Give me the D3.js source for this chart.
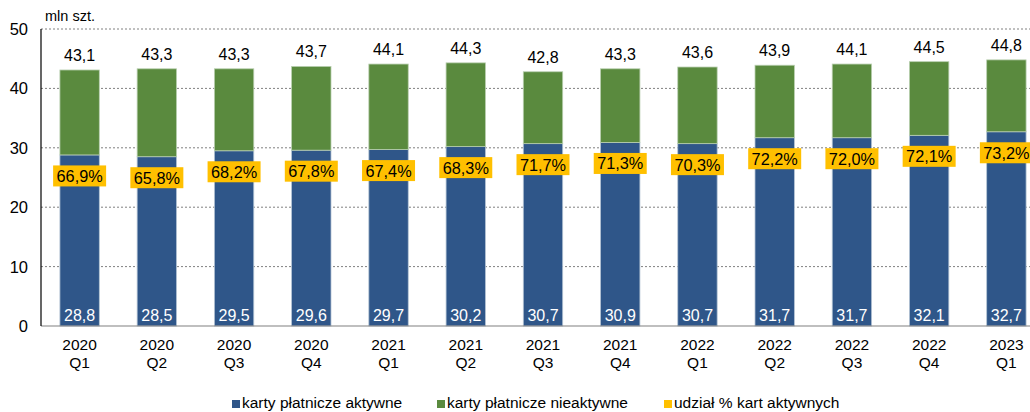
<!DOCTYPE html>
<html>
<head>
<meta charset="utf-8">
<script src="https://cdn.jsdelivr.net/npm/d3@7"></script>
<style>
  body { margin: 0; background: #fff; }
  svg text { font-family: "Liberation Sans", Arial, sans-serif; }
</style>
</head>
<body>
<svg width="1030" height="412"></svg>
<script>
const years = ["2020", "2020", "2020", "2020", "2021", "2021", "2021", "2021", "2022", "2022", "2022", "2022", "2023"];
const quarters = ["Q1", "Q2", "Q3", "Q4", "Q1", "Q2", "Q3", "Q4", "Q1", "Q2", "Q3", "Q4", "Q1"];
const active = [28.8, 28.5, 29.5, 29.6, 29.7, 30.2, 30.7, 30.9, 30.7, 31.7, 31.7, 32.1, 32.7];
const total = [43.1, 43.3, 43.3, 43.7, 44.1, 44.3, 42.8, 43.3, 43.6, 43.9, 44.1, 44.5, 44.8];
const share = [66.9, 65.8, 68.2, 67.8, 67.4, 68.3, 71.7, 71.3, 70.3, 72.2, 72.0, 72.1, 73.2];
const yTicks = [0, 10, 20, 30, 40, 50];
const legendLabels = ["karty płatnicze aktywne", "karty płatnicze nieaktywne", "udział % kart aktywnych"];

const svg = d3.select("svg");
const fmt = v => v.toFixed(1).replace(".", ",");
const blue = "#2f5689", green = "#5a8a3e", yellow = "#ffc000";

const data = active.map((a, i) => ({
    i: i,
    active: a,
    inactive: total[i] - a,
    total: total[i],
    share: share[i]
}));

const x = d3.scaleBand()
    .domain(d3.range(data.length))
    .range([41, 1045])
    .paddingInner(0.49)
    .paddingOuter(0.245);

const y = d3.scaleLinear()
    .domain([0, 50])
    .range([326, 29]);

// grid
svg.append("g")
    .selectAll("line")
    .data(yTicks.filter(t => t > 0))
    .enter().append("line")
    .attr("x1", 41).attr("x2", 1030)
    .attr("y1", d => y(d)).attr("y2", d => y(d))
    .attr("stroke", "#808080")
    .attr("stroke-width", 1)
    .attr("stroke-dasharray", "2,2");

// y tick labels
svg.append("g")
    .selectAll("text")
    .data(yTicks)
    .enter().append("text")
    .attr("x", 28)
    .attr("y", d => y(d) + 6)
    .attr("text-anchor", "end")
    .attr("font-size", 16.5)
    .attr("fill", "#000")
    .text(d => d);

svg.append("text")
    .attr("x", 45).attr("y", 21)
    .attr("font-size", 14.5)
    .text("mln szt.");

// bars
const bars = svg.append("g");
bars.selectAll("rect.active")
    .data(data)
    .enter().append("rect")
    .attr("class", "active")
    .attr("x", d => x(d.i))
    .attr("width", x.bandwidth())
    .attr("y", d => y(d.active))
    .attr("height", d => y(0) - y(d.active))
    .attr("fill", blue)
    .attr("stroke", "#b4c4d4")
    .attr("stroke-width", 0.8);

bars.selectAll("rect.inactive")
    .data(data)
    .enter().append("rect")
    .attr("class", "inactive")
    .attr("x", d => x(d.i))
    .attr("width", x.bandwidth())
    .attr("y", d => y(d.total))
    .attr("height", d => y(d.active) - y(d.total))
    .attr("fill", green)
    .attr("stroke", "#b9cfb0")
    .attr("stroke-width", 0.8);

// axes lines
svg.append("line")
    .attr("x1", 41).attr("x2", 1030)
    .attr("y1", y(0)).attr("y2", y(0))
    .attr("stroke", "#808080").attr("stroke-width", 1.2);
svg.append("line")
    .attr("x1", 41).attr("x2", 41)
    .attr("y1", y(50)).attr("y2", y(0))
    .attr("stroke", "#000").attr("stroke-width", 1.2);

// labels: totals
svg.append("g")
    .selectAll("text")
    .data(data)
    .enter().append("text")
    .attr("x", d => x(d.i) + x.bandwidth() / 2)
    .attr("y", d => y(d.total) - 9)
    .attr("text-anchor", "middle")
    .attr("font-size", 16)
    .attr("fill", "#000")
    .text(d => fmt(d.total));

// labels: active values
svg.append("g")
    .selectAll("text")
    .data(data)
    .enter().append("text")
    .attr("x", d => x(d.i) + x.bandwidth() / 2)
    .attr("y", y(0) - 5)
    .attr("text-anchor", "middle")
    .attr("font-size", 16)
    .attr("fill", "#fff")
    .text(d => fmt(d.active));

// labels: share boxes
const shareG = svg.append("g")
    .selectAll("g")
    .data(data)
    .enter().append("g")
    .attr("transform", d => `translate(${x(d.i) + x.bandwidth() / 2},${y(d.active) + 21})`);

shareG.append("rect")
    .attr("x", -26.5).attr("y", -10.5)
    .attr("width", 53).attr("height", 21)
    .attr("fill", yellow);

shareG.append("text")
    .attr("y", 6)
    .attr("text-anchor", "middle")
    .attr("font-size", 16.3)
    .attr("fill", "#000")
    .text(d => fmt(d.share) + "%");

// x labels
const xl = svg.append("g")
    .selectAll("text")
    .data(data)
    .enter().append("text")
    .attr("text-anchor", "middle")
    .attr("font-size", 15.5)
    .attr("fill", "#000");
xl.append("tspan")
    .attr("x", d => x(d.i) + x.bandwidth() / 2)
    .attr("y", 350)
    .text(d => years[d.i]);
xl.append("tspan")
    .attr("x", d => x(d.i) + x.bandwidth() / 2)
    .attr("y", 368)
    .text(d => quarters[d.i]);

// legend
const legendX = [232, 437, 664];
const legendColors = [blue, green, yellow];
const lg = svg.append("g")
    .selectAll("g")
    .data(legendLabels)
    .enter().append("g")
    .attr("transform", (d, i) => `translate(${legendX[i]},408)`);
lg.append("rect")
    .attr("x", 0).attr("y", -8)
    .attr("width", 8).attr("height", 8)
    .attr("fill", (d, i) => legendColors[i]);
lg.append("text")
    .attr("x", 10).attr("y", 0)
    .attr("font-size", 15.5)
    .attr("fill", "#000")
    .text(d => d);
</script>
</body>
</html>
